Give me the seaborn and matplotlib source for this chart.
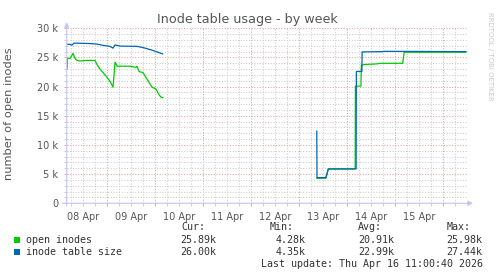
import numpy as np
import pandas as pd
import matplotlib
matplotlib.use("Agg")
import matplotlib.pyplot as plt
from matplotlib.patches import Rectangle
from matplotlib.ticker import FixedLocator, FuncFormatter
import seaborn as sns

# ---- data (x = days since 08 Apr 00:00, y = thousands of inodes) ----
open_days_a = [0.167, 0.177, 0.229, 0.292, 0.333, 0.375, 0.4375, 0.5625, 0.75, 0.79, 0.854,
               0.917, 1.0, 1.0625, 1.125, 1.167, 1.208, 1.271, 1.479, 1.604, 1.625, 1.667,
               1.75, 1.833, 1.9375, 2.02, 2.083, 2.125, 2.167]
open_vals_a = [23.0, 24.9, 24.8, 25.7, 24.8, 24.5, 24.4, 24.5, 24.5, 23.8, 23.0,
               22.4, 21.6, 20.9, 19.9, 24.2, 23.5, 23.5, 23.5, 23.3, 23.5, 22.6,
               22.4, 21.3, 19.9, 19.6, 18.6, 18.2, 18.1]
open_days_b = [5.37, 5.56, 5.61, 6.17, 6.175, 6.29, 6.30, 6.375, 6.625, 6.69, 7.16, 7.19, 8.48]
open_vals_b = [4.28, 4.3, 5.85, 5.9, 20.1, 20.1, 23.7, 23.8, 23.9, 24.0, 24.0, 25.9, 25.9]

size_days_a = [0.167, 0.229, 0.27, 0.31, 0.375, 0.6, 0.79, 0.9, 1.0625, 1.125, 1.167, 1.27,
               1.625, 1.75, 1.96, 2.16]
size_vals_a = [27.25, 27.25, 27.1, 27.45, 27.45, 27.4, 27.3, 27.1, 26.9, 26.6, 27.15, 26.95,
               26.9, 26.7, 26.2, 25.6]
size_days_b = [5.37, 5.375, 5.56, 5.61, 6.19, 6.195, 6.31, 6.315, 6.75, 6.76, 8.48]
size_vals_b = [12.4, 4.4, 4.4, 5.9, 5.9, 22.6, 22.6, 25.95, 26.0, 26.05, 26.0]

day_labels = ["08 Apr", "09 Apr", "10 Apr", "11 Apr", "12 Apr", "13 Apr", "14 Apr", "15 Apr"]
series_names = ["open inodes", "inode table size"]
cur_vals = ["25.89k", "26.00k"]
min_vals = ["4.28k", "4.35k"]
avg_vals = ["20.91k", "22.99k"]
max_vals = ["25.98k", "27.44k"]
last_update = "Last update: Thu Apr 16 11:00:40 2026"

GREEN = "#00cc00"
BLUE = "#0066b3"

sns.set_style("white")
plt.rcParams["font.family"] = ["DejaVu Sans"]

fig = plt.figure(figsize=(4.97, 2.76), dpi=100)
fig.patch.set_facecolor("white")
ax = fig.add_axes([66.7 / 497, 1 - 203.3 / 276, (467 - 66.7) / 497, (203.3 - 28.3) / 276])

for d, v in [(open_days_a, open_vals_a), (open_days_b, open_vals_b)]:
    sns.lineplot(x=d, y=v, estimator=None, sort=False, ax=ax, color=GREEN, linewidth=0.9)
for d, v in [(size_days_a, size_vals_a), (size_days_b, size_vals_b)]:
    sns.lineplot(x=d, y=v, estimator=None, sort=False, ax=ax, color=BLUE, linewidth=0.9)

ax.set_xlim(0.16, 8.5)
ax.set_ylim(0, 30)

# x ticks: majors at midnight (red), minors every 6 h, labels at noon
ax.xaxis.set_major_locator(FixedLocator(np.arange(1, 9)))
ax.set_xticklabels([])
minor_x = [q for q in np.arange(0.25, 8.5, 0.25) if abs(q - round(q)) > 1e-6]
ax.set_xticks(minor_x, minor=True)
lab_map = {i + 0.5: day_labels[i] for i in range(len(day_labels))}
ax.set_xticklabels([lab_map.get(round(q, 2), "") for q in minor_x], minor=True)

ax.yaxis.set_major_locator(FixedLocator(np.arange(0, 31, 5)))
ax.yaxis.set_major_formatter(FuncFormatter(lambda v, p: "0" if v == 0 else f"{v:g} k"))
ax.set_yticks([v for v in range(1, 30) if v % 5], minor=True)

ax.grid(which="major", color="#e8a0a0", linestyle=(0, (1, 1.6)), linewidth=0.75)
ax.grid(which="minor", color="#cdcdcd", linestyle=(0, (1, 1.6)), linewidth=0.75)
ax.set_axisbelow(True)

ax.tick_params(which="major", length=2.5, width=0.7, color="#e8a0a0", labelsize=7,
               labelcolor="#555555", pad=3.5)
ax.tick_params(which="minor", length=2.5, width=0.7, color="#cdcdcd", labelsize=7,
               labelcolor="#555555", pad=3.5)
ax.tick_params(axis="x", which="both", bottom=True)
ax.tick_params(axis="y", which="both", left=True)

for s in ax.spines.values():
    s.set_visible(False)

axis_col = "#c4c4f4"
ax.annotate("", xy=(1.015, 0), xytext=(-0.012, 0), xycoords="axes fraction",
            arrowprops=dict(arrowstyle="-|>", color=axis_col, lw=0.8, mutation_scale=7,
                            shrinkA=0, shrinkB=0))
ax.annotate("", xy=(0, 1.035), xytext=(0, -0.015), xycoords="axes fraction",
            arrowprops=dict(arrowstyle="-|>", color=axis_col, lw=0.8, mutation_scale=7,
                            shrinkA=0, shrinkB=0))

# titles
fig.text(247 / 497, 1 - 20 / 276, "Inode table usage - by week", ha="center", va="center",
         fontsize=9.2, color="#555555")
fig.text(9.5 / 497, 1 - 113.5 / 276, "number of open inodes", ha="center", va="center",
         rotation=90, fontsize=8.2, color="#555555")
fig.text(490 / 497, 1 - 56 / 276, "RRDTOOL / TOBI OETIKER", ha="center", va="center",
         rotation=270, fontsize=5, color="#c8c8c8")

# legend
mono = dict(family="DejaVu Sans Mono", fontsize=7.2, color="#333333", va="center")
def fx(px):
    return px / 497
def fy(py):
    return 1 - py / 276

fig.text(fx(181.7), fy(227.3), "Cur:", ha="left", **mono)
fig.text(fx(270), fy(227.3), "Min:", ha="left", **mono)
fig.text(fx(358), fy(227.3), "Avg:", ha="left", **mono)
fig.text(fx(447), fy(227.3), "Max:", ha="left", **mono)
for i, (name, col) in enumerate(zip(series_names, [GREEN, BLUE])):
    yc = 239.7 + i * 12.4
    fig.patches.append(Rectangle((fx(14), fy(yc + 3)), 6 / 497, 6 / 276,
                                 transform=fig.transFigure, facecolor=col, edgecolor="none"))
    fig.text(fx(26.3), fy(yc), name, ha="left", **mono)
    fig.text(fx(216.7), fy(yc), cur_vals[i], ha="right", **mono)
    fig.text(fx(306), fy(yc), min_vals[i], ha="right", **mono)
    fig.text(fx(394), fy(yc), avg_vals[i], ha="right", **mono)
    fig.text(fx(482.7), fy(yc), max_vals[i], ha="right", **mono)
fig.text(fx(482.7), fy(264), last_update, ha="right", **mono)

fig.savefig("out.png", dpi=100)
